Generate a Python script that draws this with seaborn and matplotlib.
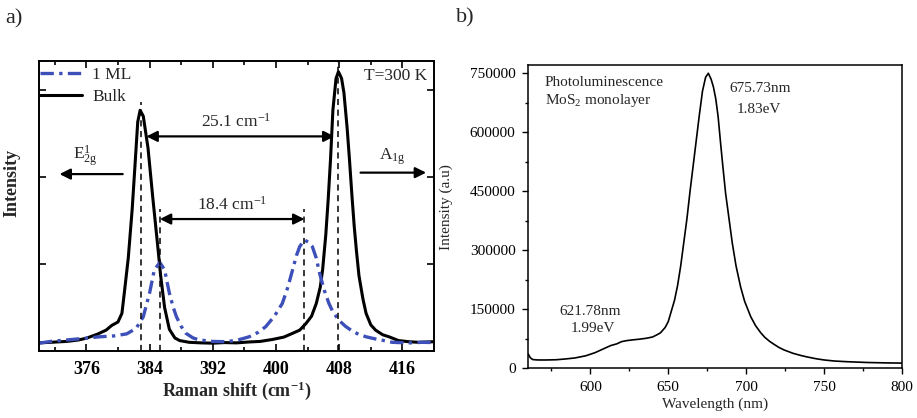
import numpy as np
import pandas as pd
import matplotlib
matplotlib.use("Agg")
import matplotlib.pyplot as plt
import seaborn as sns
from matplotlib.ticker import MultipleLocator, NullFormatter

# ---------------- data ----------------
raman_bulk_x = [370.0, 371.5, 373.5, 375.0, 376.0, 377.4, 378.5, 379.2, 380.0, 380.5,
                380.8, 381.3, 381.8, 382.2, 382.5, 382.8, 383.2, 383.8, 384.4, 385.0,
                385.4, 385.9, 386.5, 387.2, 387.8, 389.0, 390.5, 392.0, 393.5, 395.0,
                396.5, 398.0, 399.6, 401.0, 402.1, 403.0, 403.8, 404.5, 405.1, 405.6,
                405.9, 406.3, 406.6, 406.9, 407.2, 407.6, 407.9, 408.3, 408.6, 409.0,
                409.3, 409.6, 409.9, 410.2, 410.5, 411.0, 411.4, 412.0, 412.6, 413.5,
                414.3, 415.5, 416.8, 418.0, 419.0, 420.0]
raman_bulk_y = [0.028, 0.030, 0.033, 0.038, 0.044, 0.058, 0.072, 0.088, 0.100, 0.130,
                0.200, 0.320, 0.490, 0.660, 0.790, 0.830, 0.810, 0.700, 0.530, 0.370,
                0.260, 0.150, 0.075, 0.045, 0.036, 0.030, 0.028, 0.027, 0.029, 0.028,
                0.031, 0.033, 0.040, 0.048, 0.061, 0.072, 0.095, 0.120, 0.164, 0.220,
                0.280, 0.400, 0.520, 0.660, 0.830, 0.940, 0.963, 0.940, 0.890, 0.770,
                0.660, 0.540, 0.430, 0.340, 0.260, 0.180, 0.130, 0.090, 0.072, 0.056,
                0.049, 0.036, 0.032, 0.030, 0.031, 0.032]

raman_ml_x = [370.0, 371.5, 373.5, 375.5, 377.7, 379.5, 381.1, 382.3, 383.2, 384.0,
              384.6, 385.3, 385.9, 386.5, 387.0, 387.4, 388.0, 388.6, 389.5, 390.3,
              392.0, 393.7, 395.2, 396.6, 397.8, 398.7, 399.8, 400.8, 401.5, 402.1,
              402.6, 403.0, 403.6, 404.1, 404.6, 405.1, 405.5, 406.1, 406.7, 407.2,
              408.0, 408.8, 409.7, 410.5, 411.4, 412.5, 413.5, 414.7, 415.6, 417.0,
              418.5, 420.0]
raman_ml_y = [0.027, 0.033, 0.038, 0.043, 0.049, 0.052, 0.059, 0.078, 0.118, 0.200,
              0.280, 0.305, 0.280, 0.200, 0.150, 0.118, 0.085, 0.061, 0.045, 0.038,
              0.033, 0.032, 0.038, 0.049, 0.065, 0.084, 0.120, 0.164, 0.220, 0.280,
              0.330, 0.360, 0.383, 0.375, 0.360, 0.320, 0.270, 0.210, 0.164, 0.135,
              0.105, 0.085, 0.068, 0.057, 0.049, 0.042, 0.037, 0.030, 0.029, 0.028,
              0.030, 0.029]

pl_x = [560.0, 560.5, 561.5, 563.0, 566.0, 571.0, 578.0, 584.0, 590.0, 597.0,
        603.0, 608.0, 613.0, 617.0, 620.0, 623.0, 627.0, 631.0, 636.0, 640.0,
        643.0, 645.0, 648.0, 650.0, 652.0, 654.0, 656.0, 658.0, 660.0, 662.0,
        664.0, 666.0, 668.0, 670.0, 672.0, 674.0, 675.73, 677.5, 679.0, 680.5,
        682.0, 683.6, 685.0, 686.8, 689.0, 691.1, 693.5, 696.4, 699.0, 702.9,
        706.0, 709.3, 712.0, 715.0, 718.0, 721.0, 724.3, 730.0, 735.0, 739.3,
        745.0, 750.0, 756.5, 765.0, 778.0, 790.0, 800.0]
pl_y = [36000, 33000, 26000, 21500, 20500, 20400, 21000, 23000, 25500, 31000,
        39000, 48000, 57000, 61500, 67000, 69500, 71500, 73100, 75700, 79000,
        85000, 89500, 103000, 118000, 145000, 172000, 210000, 260000, 320000, 380000,
        450000, 515000, 580000, 645000, 705000, 740000, 750000, 735000, 715000, 685000,
        640000, 572000, 515000, 445000, 380000, 318000, 260000, 207000, 170000, 131000,
        108000, 90000, 78000, 68000, 60000, 52500, 46000, 37500, 32000, 28000,
        23500, 20500, 17800, 16000, 14000, 13000, 12500]

raman_xticks = [376, 384, 392, 400, 408, 416]
pl_xticks = [600, 650, 700, 750, 800]
pl_yticks = [0, 150000, 300000, 450000, 600000, 750000]

bulk_peaks = [382.9, 407.9]
ml_peaks = [385.3, 403.6]

# ---------------- style ----------------
sns.set_style("ticks")
plt.rcParams['font.family'] = ['Liberation Serif', 'DejaVu Serif']
plt.rcParams['mathtext.fontset'] = 'custom'
plt.rcParams['mathtext.rm'] = 'Liberation Serif'
plt.rcParams['mathtext.it'] = 'Liberation Serif:italic'
plt.rcParams['mathtext.bf'] = 'Liberation Serif:bold'

BLUE = '#3d4fb8'

fig = plt.figure(figsize=(9.17, 4.18), dpi=100)
ax1 = fig.add_axes([0.0425, 0.1603, 0.4308, 0.6938])
ax2 = fig.add_axes([0.5758, 0.1196, 0.4078, 0.7249])

# ---------------- panel a ----------------
df_bulk = pd.DataFrame({'x': raman_bulk_x, 'y': raman_bulk_y})
df_ml = pd.DataFrame({'x': raman_ml_x, 'y': raman_ml_y})
sns.lineplot(data=df_bulk, x='x', y='y', ax=ax1, color='black', lw=2.2,
             estimator=None, sort=False, label='Bulk')
sns.lineplot(data=df_ml, x='x', y='y', ax=ax1, color=BLUE, lw=2.4,
             estimator=None, sort=False, label='1 ML', linestyle=(0, (4, 1.6, 1, 1.6)))

for xp, top in zip(bulk_peaks, [0.86, 1.0]):
    ax1.plot([xp, xp], [0, top], color='black', lw=1.1, ls=(0, (4, 3)))
for xp in ml_peaks:
    ax1.plot([xp, xp], [0, 0.49], color='black', lw=1.1, ls=(0, (4, 3)))

ax1.set_xlim(370, 420)
ax1.set_ylim(0, 1.0)
ax1.set_xticks(raman_xticks)
ax1.xaxis.set_minor_locator(MultipleLocator(4))
ax1.set_yticks([0.3, 0.6, 0.9])
ax1.yaxis.set_major_formatter(NullFormatter())
ax1.tick_params(axis='both', which='both', direction='in', top=True, right=True,
                width=1.2, colors='black')
ax1.tick_params(axis='both', which='major', length=5)
ax1.tick_params(axis='both', which='minor', length=3)
ax1.tick_params(axis='x', pad=7)
for lab in ax1.get_xticklabels():
    lab.set_fontsize(13)
    lab.set_fontweight('bold')
for sp in ax1.spines.values():
    sp.set_linewidth(1.4)
    sp.set_color('black')
ax1.set_xlabel(r'Raman shift (cm$\mathregular{^{-1}}$)', fontsize=13, fontweight='bold', labelpad=1)
ax1.set_ylabel('Intensity', fontsize=13, fontweight='bold')
ax1.yaxis.set_label_coords(-0.048, 0.58)

h, l = ax1.get_legend_handles_labels()
order = [l.index('1 ML'), l.index('Bulk')]
ax1.legend([h[i] for i in order], [l[i] for i in order], loc='upper left',
           bbox_to_anchor=(-0.012, 1.0), frameon=False, fontsize=12.5,
           handlelength=2.4, handletextpad=0.6, labelspacing=0.3,
           borderaxespad=0, borderpad=0.35)

ax1.text(419.1, 0.948, 'T=300 K', fontsize=12.5, ha='right', va='center')

arrow_kw = dict(arrowstyle='<|-|>', color='black', lw=1.6, mutation_scale=16,
                shrinkA=0, shrinkB=0)
ax1.annotate('', xy=(383.6, 0.74), xytext=(407.4, 0.74), arrowprops=arrow_kw)
ax1.annotate('', xy=(385.3, 0.455), xytext=(403.6, 0.455), arrowprops=arrow_kw)
ax1.text(395.0, 0.79, r'25.1 cm$\mathregular{^{-1}}$', fontsize=12.5, ha='center', va='center')
ax1.text(394.5, 0.505, r'18.4 cm$\mathregular{^{-1}}$', fontsize=12.5, ha='center', va='center')

one_kw = dict(arrowstyle='-|>', color='black', lw=1.6, mutation_scale=16,
              shrinkA=0, shrinkB=0)
ax1.annotate('', xy=(372.6, 0.61), xytext=(380.6, 0.61), arrowprops=one_kw)
ax1.annotate('', xy=(419.0, 0.615), xytext=(410.7, 0.615), arrowprops=one_kw)
ax1.text(375.8, 0.67, r'$\mathregular{E^{1}_{2g}}$', fontsize=12.5, ha='center', va='center')
ax1.text(414.7, 0.67, r'$\mathregular{A_{1g}}$', fontsize=12.5, ha='center', va='center')

# ---------------- panel b ----------------
df_pl = pd.DataFrame({'x': pl_x, 'y': pl_y})
sns.lineplot(data=df_pl, x='x', y='y', ax=ax2, color='black', lw=1.2,
             estimator=None, sort=False, legend=False)
ax2.set_xlim(560, 800)
ax2.set_ylim(0, 771000)
ax2.set_xticks(pl_xticks)
ax2.set_yticks(pl_yticks)
ax2.set_yticklabels([str(v) for v in pl_yticks])
ax2.xaxis.set_minor_locator(MultipleLocator(25))
ax2.yaxis.set_minor_locator(MultipleLocator(75000))
ax2.tick_params(axis='both', which='both', direction='out', colors='black',
                width=1.0, labelsize=11, pad=5)
ax2.tick_params(axis='both', which='major', length=4)
ax2.tick_params(axis='both', which='minor', length=2.5)
for sp in ax2.spines.values():
    sp.set_linewidth(1.1)
    sp.set_color('black')
ax2.set_xlabel('Wavelength (nm)', fontsize=11, labelpad=3)
ax2.set_ylabel('Intensity (a.u)', fontsize=11)
ax2.yaxis.set_label_coords(-0.2, 0.53)

ax2.text(570.9, 726000, 'Photoluminescence', fontsize=11, ha='left', va='center')
ax2.text(570.9, 680000, r'MoS$\mathregular{_2}$ monolayer', fontsize=11, ha='left', va='center')
ax2.text(709.1, 711500, '675.73nm', fontsize=11, ha='center', va='center')
ax2.text(708.2, 658500, '1.83eV', fontsize=11, ha='center', va='center')
ax2.text(599.7, 143700, '621.78nm', fontsize=11, ha='center', va='center')
ax2.text(601.8, 100100, '1.99eV', fontsize=11, ha='center', va='center')

fig.text(0.006, 0.955, 'a)', fontsize=16, ha='left', va='center')
fig.text(0.497, 0.958, 'b)', fontsize=16, ha='left', va='center')

fig.savefig('out.png', dpi=100)
